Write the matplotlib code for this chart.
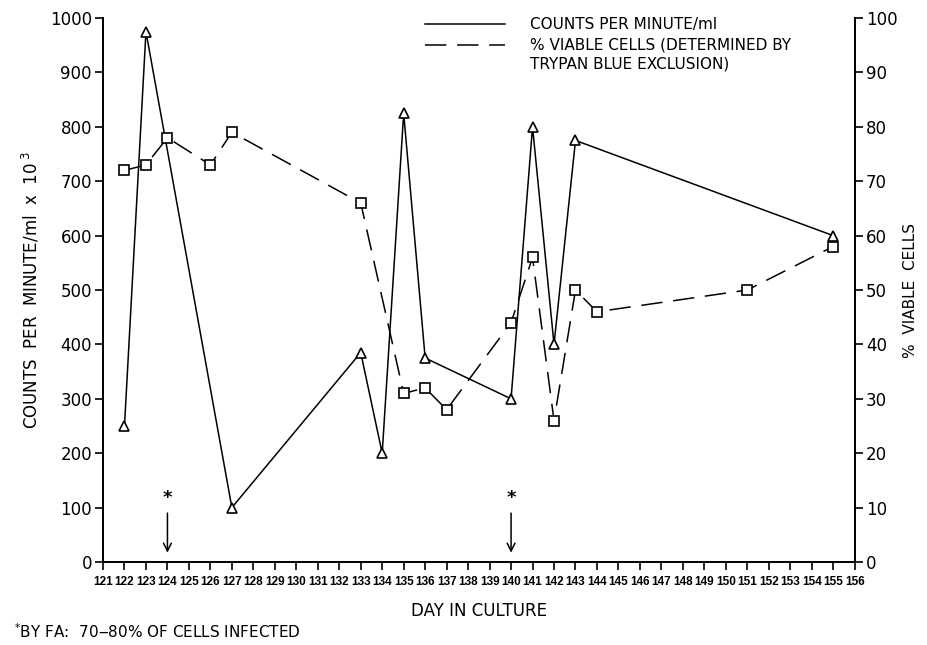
import matplotlib
matplotlib.use("Agg")
import matplotlib.pyplot as plt

# counts per minute/ml x 10^3 (triangles, solid)
cpm_days = [122, 123, 127, 133, 134, 135, 136, 140, 141, 142, 143, 155]
cpm_vals = [250, 975, 100, 385, 200, 825, 375, 300, 800, 400, 775, 600]

# % viable cells (squares, dashed)
via_days = [122, 123, 124, 126, 127, 133, 135, 136, 137, 140, 141, 142, 143, 144, 151, 155]
via_vals = [72, 73, 78, 73, 79, 66, 31, 32, 28, 44, 56, 26, 50, 46, 50, 58]

# days where infection was checked by FA
fa_days = [124, 140]

x_ticks = list(range(121, 157))
left_ticks = list(range(0, 1001, 100))
right_ticks = list(range(0, 101, 10))

fig = plt.figure(figsize=(9.28, 6.45), dpi=100)
ax = fig.add_axes([0.111, 0.1287, 0.81, 0.8433])
ax2 = ax.twinx()

ax.plot(cpm_days, cpm_vals, color='black', lw=1.1, marker='^', ms=7.5,
        mfc='white', mec='black', mew=1.2, clip_on=False, zorder=3)
ax2.plot(via_days, via_vals, color='black', lw=1.1, dashes=(14, 7), marker='s', ms=7,
         mfc='white', mec='black', mew=1.2, clip_on=False, zorder=3)

ax.set_xlim(121, 156)
ax.set_ylim(0, 1000)
ax2.set_ylim(0, 100)

ax.set_xticks(x_ticks)
ax.set_xticklabels([str(d) for d in x_ticks], fontsize=8.5, fontweight='bold',
                   family='Liberation Sans')
ax.set_yticks(left_ticks)
ax.set_yticklabels([str(v) for v in left_ticks], fontsize=12)
ax2.set_yticks(right_ticks)
ax2.set_yticklabels([str(v) for v in right_ticks], fontsize=12)

for a in (ax, ax2):
    a.spines['top'].set_visible(False)
    for s in a.spines.values():
        s.set_linewidth(1.3)
ax.tick_params(axis='both', direction='out', length=6, width=1.2, pad=2)
ax.tick_params(axis='x', pad=4)
ax2.tick_params(axis='y', direction='out', length=6, width=1.2, pad=2)

ax.set_xlabel('DAY IN CULTURE', fontsize=12, labelpad=10)
ax.set_ylabel('COUNTS  PER  MINUTE/ml  x  10$^{\\ 3}$', fontsize=12, labelpad=6)
ax2.set_ylabel('%  VIABLE  CELLS', fontsize=11, labelpad=4)

for d in fa_days:
    ax.annotate('', xy=(d, 12), xytext=(d, 95),
                arrowprops=dict(arrowstyle='->', lw=1.1, color='black',
                                mutation_scale=14))
    ax.text(d, 118, '*', ha='center', va='center', fontsize=13, fontweight='bold')

# legend drawn by hand, like the original
fig.lines.append(plt.Line2D([425 / 928, 505 / 928], [1 - 24 / 645, 1 - 24 / 645],
                            color='black', lw=1.1, transform=fig.transFigure))
fig.lines.append(plt.Line2D([425 / 928, 505 / 928], [1 - 45 / 645, 1 - 45 / 645],
                            color='black', lw=1.1, dashes=(14, 7), transform=fig.transFigure))
fig.text(530 / 928, 1 - 24 / 645, 'COUNTS PER MINUTE/ml', fontsize=11, va='center')
fig.text(530 / 928, 1 - 45 / 645, '% VIABLE CELLS (DETERMINED BY', fontsize=11, va='center')
fig.text(530 / 928, 1 - 64 / 645, 'TRYPAN BLUE EXCLUSION)', fontsize=11, va='center')

fig.text(14 / 928, 1 - 632 / 645, '$^{*}$BY FA:  70\u201280% OF CELLS INFECTED',
         fontsize=11, va='center')

fig.savefig('out.png', dpi=100)
